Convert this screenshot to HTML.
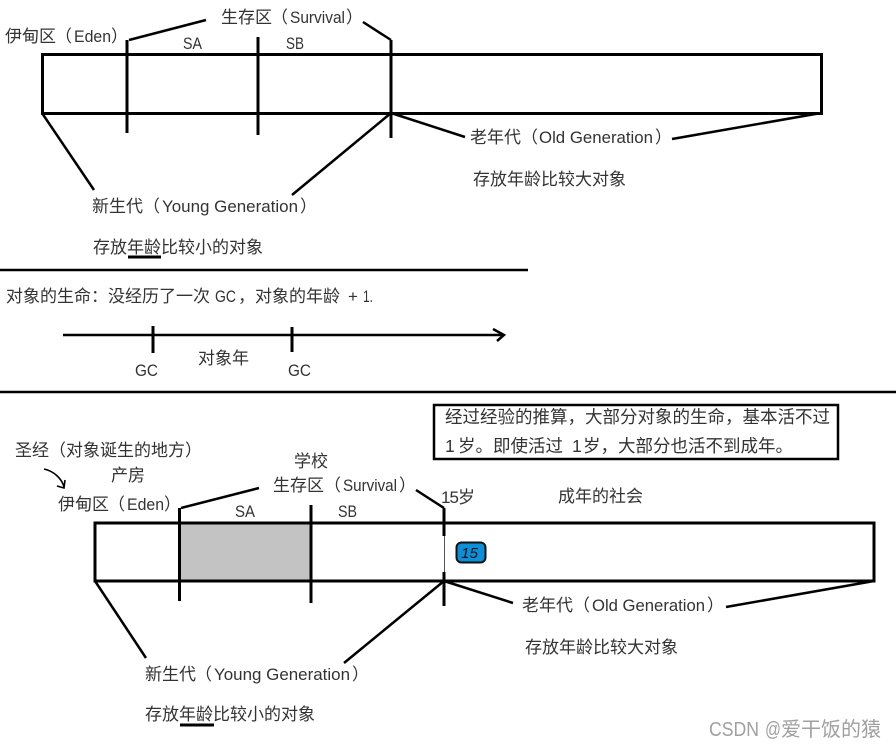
<!DOCTYPE html>
<html>
<head>
<meta charset="utf-8">
<style>
html,body{margin:0;padding:0;background:#fff}
svg{display:block}
text{font-family:"Liberation Sans","Noto Sans CJK SC",sans-serif;font-size:17px;fill:#333}
.l{stroke:#000;stroke-width:3;fill:none}
.t{stroke:#000;stroke-width:2.5;fill:none}
.n{font-size:17.5px}
.w{font-size:20px;fill:#a0a0a0}
</style>
</head>
<body>
<svg width="896" height="749" viewBox="0 0 896 749" xmlns="http://www.w3.org/2000/svg">
<rect width="896" height="749" fill="#fff"/>

<!-- top diagram -->
<rect class="l" x="42.5" y="54.5" width="779" height="59"/>
<path class="l" d="M127 40V133M258 37V135M391 40V138"/>
<path class="t" d="M129 40L206 20M363 22L391 40M42 113L94 190M391 113L292 195M391 113L465 137M821 113L672 139"/>
<path class="l" d="M128 257H161"/>

<text x="5" y="42">伊甸区</text><text x="55" y="42">（</text>
<text x="74" y="42" textLength="37" lengthAdjust="spacingAndGlyphs">Eden</text><text x="111" y="42">）</text>

<text x="221" y="23">生存区</text><text x="271" y="23">（</text>
<text x="290" y="23" textLength="55" lengthAdjust="spacingAndGlyphs">Survival</text><text x="346" y="23">）</text>

<text x="183" y="49" textLength="19" lengthAdjust="spacingAndGlyphs">SA</text>
<text x="286" y="49" textLength="18" lengthAdjust="spacingAndGlyphs">SB</text>

<text x="92" y="212">新生代</text><text x="143" y="212">（</text>
<text x="162" y="212" textLength="136" lengthAdjust="spacingAndGlyphs">Young Generation</text><text x="300" y="212">）</text>

<text x="93" y="253">存放年龄比较小的对象</text>

<text x="470" y="143">老年代</text><text x="521" y="143">（</text>
<text x="539" y="143" textLength="114" lengthAdjust="spacingAndGlyphs">Old Generation</text><text x="655" y="143">）</text>

<text x="473" y="185">存放年龄比较大对象</text>

<!-- separator and timeline -->
<path class="t" d="M0 270H528"/>
<text x="6" y="302">对象的生命：没经历了一次</text>
<text x="215" y="302" textLength="21" lengthAdjust="spacingAndGlyphs">GC</text>
<text x="238" y="302">，对象的年龄</text>
<text x="348" y="302">+</text>
<text x="363" y="302" textLength="10" lengthAdjust="spacingAndGlyphs">1.</text>
<path class="t" d="M63 335H503M493 329L504 335L497 341"/>
<path class="l" d="M153 326V353M292 327V352"/>
<text x="135" y="376" textLength="23" lengthAdjust="spacingAndGlyphs">GC</text>
<text x="288" y="376" textLength="23" lengthAdjust="spacingAndGlyphs">GC</text>
<text x="198" y="364">对象年</text>
<path class="t" d="M0 392H896"/>

<!-- note box -->
<rect class="t" x="434" y="405" width="404" height="54"/>
<text class="n" x="445" y="423">经过经验的推算，大部分对象的生命，基本活不过</text>
<text class="n" x="445" y="452">1</text>
<text class="n" x="458" y="452">岁。即使活过</text>
<text class="n" x="572" y="452">1</text>
<text class="n" x="583" y="452">岁，大部分也活不到成年。</text>

<!-- bottom labels -->
<text x="15" y="456">圣经（对象诞生的地方）</text>
<path d="M44 469C54 471 62 479 64 487M57 486L64 488L65 480" stroke="#000" stroke-width="1.6" fill="none"/>
<text x="111" y="481">产房</text>

<text x="58" y="510">伊甸区</text><text x="108" y="510">（</text>
<text x="127" y="510" textLength="37" lengthAdjust="spacingAndGlyphs">Eden</text><text x="164" y="510">）</text>

<text x="294" y="467">学校</text>

<text x="273" y="491">生存区</text><text x="324" y="491">（</text>
<text x="343" y="491" textLength="54" lengthAdjust="spacingAndGlyphs">Survival</text><text x="399" y="491">）</text>

<text x="235" y="517" textLength="20" lengthAdjust="spacingAndGlyphs">SA</text>
<text x="338" y="517" textLength="19" lengthAdjust="spacingAndGlyphs">SB</text>
<text x="441" y="503" textLength="34">15岁</text>
<text x="558" y="502">成年的社会</text>

<!-- bottom diagram -->
<rect x="180" y="523" width="131" height="58" fill="#c3c3c3"/>
<rect class="l" x="95" y="523" width="779" height="58"/>
<path d="M444.5 536V572" stroke="#555" stroke-width="1" fill="none"/>
<path class="l" d="M179.500 508V601M311 505V603M444 508V536M444 572V606"/>
<path class="t" d="M181 508L259 488M416 490L444 508M95 581L146 658M444 581L344 663M444 581L513 603M874 581L726 607"/>
<path class="l" d="M180 725H214"/>
<rect x="456.500" y="542.500" width="29" height="20" rx="5" fill="#0a8fd8" stroke="#111" stroke-width="2"/>
<text x="461" y="558" textLength="17" lengthAdjust="spacingAndGlyphs" style="font-size:15px;font-style:italic;fill:#111">15</text>

<text x="145" y="680">新生代</text><text x="195" y="680">（</text>
<text x="214" y="680" textLength="136" lengthAdjust="spacingAndGlyphs">Young Generation</text><text x="352" y="680">）</text>

<text x="145" y="720">存放年龄比较小的对象</text>

<text x="522" y="611">老年代</text><text x="573" y="611">（</text>
<text x="592" y="611" textLength="113" lengthAdjust="spacingAndGlyphs">Old Generation</text><text x="707" y="611">）</text>

<text x="525" y="653">存放年龄比较大对象</text>

<!-- watermark -->
<text class="w" x="709" y="736" textLength="50" lengthAdjust="spacingAndGlyphs">CSDN</text>
<text class="w" x="765" y="736" textLength="16" lengthAdjust="spacingAndGlyphs">@</text>
<text class="w" x="781" y="736">爱干饭的猿</text>
</svg>
</body>
</html>
